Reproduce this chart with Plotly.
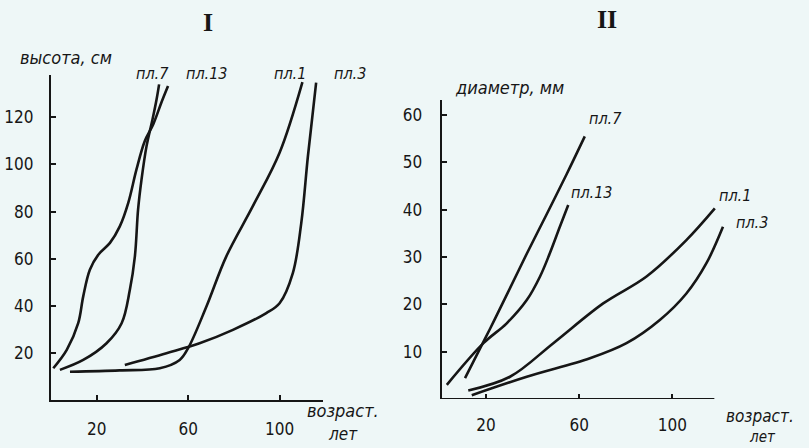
import plotly.graph_objects as go

W, H = 809, 448

# ---------- Panel I: height (cm) vs age (years) ----------
age_I_p7 = [3.9, 14.1, 24.3, 30.9, 34.5, 36.7, 38.1, 39.6, 41.8, 44.4, 46.2, 47.3]
h_I_p7 = [12.8, 17.0, 24.1, 32.6, 46.8, 61.0, 80.9, 93.6, 107.8, 119.1, 127.7, 134.0]

age_I_p13 = [1.0, 6.9, 11.9, 14.1, 17.0, 20.7, 25.8, 30.1, 33.8, 37.4, 41.0, 44.7, 48.3, 51.2]
h_I_p13 = [13.5, 21.3, 32.6, 44.0, 55.3, 61.7, 66.7, 73.7, 83.7, 97.9, 109.9, 117.0, 126.3, 133.3]

age_I_p1 = [8.3, 30.0, 47.6, 56.3, 60.0, 68.0, 76.7, 88.3, 100.0, 110.0]
h_I_p1 = [12.0, 12.6, 13.5, 17.0, 22.0, 39.7, 61.0, 82.3, 105.0, 135.0]

age_I_p3 = [32.3, 50.5, 65.0, 79.6, 94.2, 100.0, 105.8, 109.5, 112.4, 116.0]
h_I_p3 = [14.9, 19.9, 24.1, 29.8, 36.9, 41.1, 53.9, 75.2, 103.5, 134.8]

# ---------- Panel II: diameter (mm) vs age (years) ----------
age_II_p7 = [11.0, 14.6, 21.7, 28.9, 37.5, 46.0, 54.6, 62.4]
d_II_p7 = [4.4, 7.9, 14.8, 22.0, 30.7, 39.0, 47.5, 55.5]

age_II_p13 = [3.2, 18.9, 28.9, 37.5, 43.2, 47.4, 51.7, 55.3]
d_II_p13 = [3.0, 11.8, 16.0, 20.9, 25.9, 30.8, 36.4, 41.0]

age_II_p1 = [12.4, 30.3, 48.9, 70.3, 88.9, 106.0, 118.2]
d_II_p1 = [1.8, 4.7, 11.8, 20.2, 25.9, 33.6, 40.3]

age_II_p3 = [13.9, 37.5, 64.6, 80.3, 94.6, 106.0, 114.6, 121.7]
d_II_p3 = [0.8, 4.7, 8.6, 11.8, 16.7, 22.3, 28.7, 36.4]

ticks_I_x = [20, 60, 100]
ticks_I_y = [20, 40, 60, 80, 100, 120]
ticks_II_x = [20, 60, 100]
ticks_II_y = [10, 20, 30, 40, 50, 60]

INK = "#161616"
BG = "#eef7f7"
ITAL = "Liberation Sans Narrow, DejaVu Sans Condensed, Liberation Sans, sans-serif"
TICKF = "Liberation Sans Narrow, DejaVu Sans Condensed, Liberation Sans, sans-serif"


def px(x):
    return x / W


def py(y):
    return 1 - y / H


fig = go.Figure()

line_style = dict(color=INK, width=2.6, shape="spline", smoothing=1.0)

for xs, ys, nm in [(age_I_p7, h_I_p7, "пл.7"), (age_I_p13, h_I_p13, "пл.13"),
                   (age_I_p1, h_I_p1, "пл.1"), (age_I_p3, h_I_p3, "пл.3")]:
    fig.add_trace(go.Scatter(x=xs, y=ys, mode="lines", name=nm, line=line_style,
                             xaxis="x", yaxis="y", showlegend=False, hoverinfo="skip"))

for xs, ys, nm in [(age_II_p7, d_II_p7, "пл.7"), (age_II_p13, d_II_p13, "пл.13"),
                   (age_II_p1, d_II_p1, "пл.1"), (age_II_p3, d_II_p3, "пл.3")]:
    fig.add_trace(go.Scatter(x=xs, y=ys, mode="lines", name=nm, line=line_style,
                             xaxis="x2", yaxis="y2", showlegend=False, hoverinfo="skip"))

axis_common = dict(showgrid=False, zeroline=False, ticks="inside", ticklen=5,
                   tickwidth=2, tickcolor=INK, linecolor=INK, linewidth=2.2,
                   tickfont=dict(family=TICKF, size=17, color=INK), fixedrange=True)

fig.update_layout(
    width=W, height=H, autosize=False,
    margin=dict(l=0, r=0, t=0, b=0),
    paper_bgcolor=BG, plot_bgcolor=BG,
    xaxis=dict(domain=[px(51), px(323)], range=[0, 119], anchor="y",
               tickvals=ticks_I_x, showline=True, ticklabelstandoff=12, **axis_common),
    yaxis=dict(domain=[py(400), py(75)], range=[0, 138], anchor="x",
               tickvals=ticks_I_y, showline=True, ticklabelstandoff=12, **axis_common),
    xaxis2=dict(domain=[px(441.7), px(726)], range=[1, 123], anchor="y2",
                tickvals=ticks_II_x, showline=False, ticklabelstandoff=14, **axis_common),
    yaxis2=dict(domain=[py(399), py(100)], range=[0, 63.2], anchor="x2",
                tickvals=ticks_II_y, showline=True, ticklabelstandoff=14, **axis_common),
)

# x-axis line of panel II ends at age ~118 while the curve пл.3 runs past it
fig.add_shape(type="line", xref="x2", yref="y2", x0=1, x1=118, y0=0, y1=0,
              line=dict(color=INK, width=2.2))

ann = []


def text(x, y, s, size=16, family=ITAL, italic=True, bold=False):
    t = f"<b>{s}</b>" if bold else s
    ann.append(dict(x=px(x), y=py(y), xref="paper", yref="paper", text=t,
                    showarrow=False, xanchor="center", yanchor="middle",
                    font=dict(family=family, size=size, color=INK,
                              style="italic" if italic else "normal")))


# Panel titles
text(208, 22, "I", size=26, family="Liberation Serif, DejaVu Serif, serif", italic=False, bold=True)
text(607, 20, "II", size=26, family="Liberation Serif, DejaVu Serif, serif", italic=False, bold=True)

# Axis titles
text(66, 58, "высота, см", size=18)
text(509, 88, "диаметр, мм", size=18)
text(343, 410, "возраст.", size=18)
text(343, 434, "лет", size=17)
text(760, 416, "возраст.", size=17)
text(762, 437, "лет", size=15)

# Curve labels, panel I
text(152, 73, "пл.7", size=16)
text(207, 73, "пл.13", size=16)
text(290, 73, "пл.1", size=16)
text(350, 73, "пл.3", size=16)

# Curve labels, panel II
text(605, 118, "пл.7", size=16)
text(592, 192, "пл.13", size=16)
text(735, 195, "пл.1", size=16)
text(752, 222, "пл.3", size=16)

fig.update_layout(annotations=ann)

fig.write_html("out.html")
